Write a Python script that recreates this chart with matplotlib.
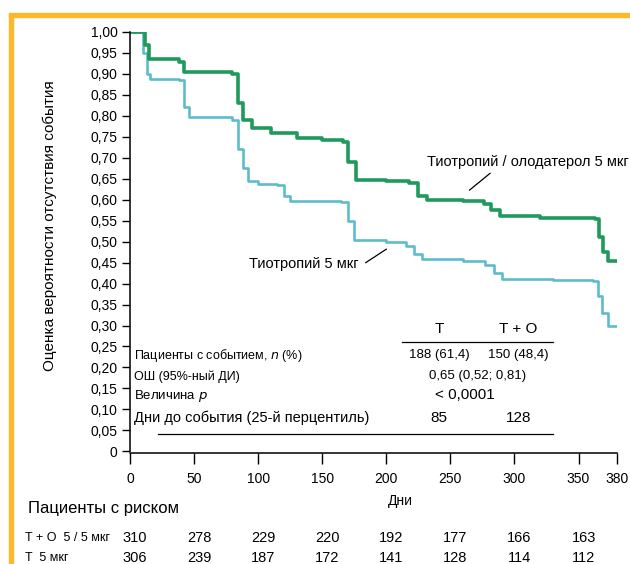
import matplotlib
matplotlib.use('Agg')
import matplotlib.pyplot as plt
import matplotlib.transforms as mtransforms
from matplotlib.patches import Rectangle

plt.rcParams['font.family'] = ['Liberation Sans', 'DejaVu Sans']

# Kaplan-Meier estimates
days_to = [0, 12, 15, 38, 42, 80, 84, 88, 95, 110, 130, 150, 166, 170, 176, 200, 218, 225, 232,
           260, 276, 282, 289, 320, 363, 366, 369, 373, 380]
surv_to = [1.00, 0.97, 0.935, 0.928, 0.905, 0.90, 0.83, 0.79, 0.77, 0.76, 0.747, 0.742, 0.738,
           0.69, 0.648, 0.645, 0.64, 0.61, 0.60, 0.598, 0.59, 0.575, 0.56, 0.556, 0.553, 0.51,
           0.475, 0.455, 0.455]

days_t = [0, 10, 13, 16, 38, 42, 46, 80, 84, 88, 92, 100, 115, 120, 125, 165, 170, 175, 200,
          215, 222, 228, 260, 277, 284, 290, 330, 361, 365, 368, 373, 380]
surv_t = [1.00, 0.95, 0.90, 0.888, 0.885, 0.82, 0.797, 0.79, 0.72, 0.675, 0.645, 0.638, 0.635,
          0.61, 0.596, 0.594, 0.55, 0.505, 0.498, 0.49, 0.47, 0.458, 0.455, 0.445, 0.425, 0.41,
          0.409, 0.405, 0.37, 0.33, 0.30, 0.30]

y_ticks = [i * 0.05 for i in range(21)]
y_ticklabels = ['0'] + ['{:.2f}'.format(v).replace('.', ',') for v in y_ticks[1:]]
x_ticks = [0, 50, 100, 150, 200, 250, 300, 350, 380]

risk_days = [0, 50, 100, 150, 200, 250, 300, 350]
risk_to = [310, 278, 229, 220, 192, 177, 166, 163]
risk_t = [306, 239, 187, 172, 141, 128, 114, 112]

table_cols = ['T', 'T + O']
events = ['188 (61,4)', '150 (48,4)']
odds = '0,65 (0,52; 0,81)'
pval = '< 0,0001'
days25 = ['85', '128']

green = '#1f9a5c'
blue = '#5dbccb'

fig = plt.figure(figsize=(6.3, 5.64), dpi=100)
fig.patches.append(Rectangle((0.0143, 0.0), 0.0063, 0.976, transform=fig.transFigure,
                             color='#fcb829', zorder=0))
fig.patches.append(Rectangle((0.0143, 0.970), 0.99, 0.0075, transform=fig.transFigure,
                             color='#fcb829', zorder=0))

ax = fig.add_axes([0.2063, 0.1968, 0.773, 0.7465])
ax.plot(days_t, surv_t, drawstyle='steps-post', color=blue, lw=1.9)
ax.plot(days_to, surv_to, drawstyle='steps-post', color=green, lw=2.6)

ax.set_xlim(0, 380)
ax.set_ylim(-0.004, 1.0)
ax.set_yticks(y_ticks)
ax.set_yticklabels(y_ticklabels, fontsize=10)
ax.set_xticks(x_ticks)
ax.set_xticklabels([str(v) for v in x_ticks], fontsize=10)
ax.tick_params(axis='y', direction='out', length=6, width=1, pad=3)
ax.tick_params(axis='x', direction='out', length=8, width=1, pad=6)
for s in ['top', 'right']:
    ax.spines[s].set_visible(False)
ax.spines['left'].set_linewidth(1.1)
ax.spines['bottom'].set_linewidth(1.1)
ax.spines['left'].set_bounds(0, 1.0)
ax.set_xlabel('Дни', fontsize=10)
ax.xaxis.set_label_coords(0.555, -0.097)
ax.set_ylabel('Оценка вероятности отсутствия события', fontsize=11)
ax.yaxis.set_label_coords(-0.15, 0.54)

# curve labels
ax.text(232, 0.69, 'Тиотропий / олодатерол 5 мкг', fontsize=10.5, ha='left', va='center')
ax.plot([265, 281], [0.623, 0.663], color='black', lw=0.9)
ax.text(93, 0.447, 'Тиотропий 5 мкг', fontsize=10.5, ha='left', va='center')
ax.plot([184, 200], [0.45, 0.482], color='black', lw=0.9)

# summary table
col_x = [241, 303]
for x, lab in zip(col_x, table_cols):
    ax.text(x, 0.292, lab, fontsize=11, ha='center', va='center')
ax.plot([212, 330], [0.261, 0.261], color='black', lw=0.9)
ax.text(3, 0.229, 'Пациенты с событием, $n$ (%)', fontsize=9, ha='left', va='center')
for x, lab in zip(col_x, events):
    ax.text(x, 0.229, lab, fontsize=9.5, ha='center', va='center')
ax.text(3, 0.179, 'ОШ (95%-ный ДИ)', fontsize=9, ha='left', va='center')
ax.text(271, 0.179, odds, fontsize=9.5, ha='center', va='center')
ax.text(3, 0.131, 'Величина $p$', fontsize=9.5, ha='left', va='center')
ax.text(261, 0.135, pval, fontsize=11, ha='center', va='center')
ax.text(3, 0.079, 'Дни до события (25-й перцентиль)', fontsize=10.5, ha='left', va='center')
for x, lab in zip(col_x, days25):
    ax.text(x, 0.079, lab, fontsize=11, ha='center', va='center')
ax.plot([22, 330], [0.041, 0.041], color='black', lw=0.9)

# patients at risk
trans = mtransforms.blended_transform_factory(ax.transData, fig.transFigure)
fig.text(0.044, 0.098, 'Пациенты с риском', fontsize=12, ha='left', va='center')
fig.text(0.040, 0.046, 'T + O  5 / 5 мкг', fontsize=9, ha='left', va='center')
fig.text(0.040, 0.011, 'T  5 мкг', fontsize=9, ha='left', va='center')
for d, a, b in zip(risk_days, risk_to, risk_t):
    ax.text(d + 4, 0.046, str(a), transform=trans, fontsize=10.5, ha='center', va='center',
            clip_on=False)
    ax.text(d + 4, 0.011, str(b), transform=trans, fontsize=10.5, ha='center', va='center',
            clip_on=False)

fig.savefig('out.png', dpi=100, facecolor='white')
